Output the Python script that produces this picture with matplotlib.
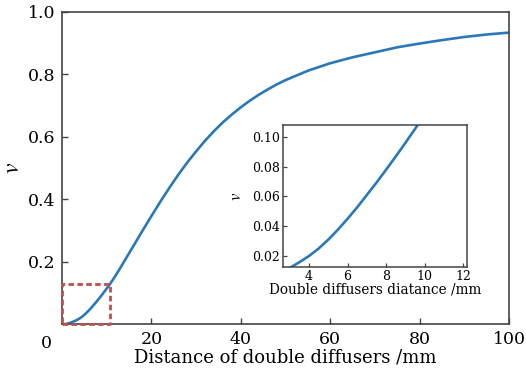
import numpy as np
import matplotlib.pyplot as plt

# values
dist = [0.5, 1, 2, 2.5, 3, 3.5, 4, 4.5, 5, 5.5, 6, 6.5, 7, 7.5, 8, 8.5, 9,
        9.5, 10, 10.5, 11, 11.5, 12, 13, 14, 16, 18, 20, 22, 24, 26, 28, 30,
        32, 34, 36, 38, 40, 42, 44, 46, 48, 50, 55, 60, 65, 70, 75, 80, 85,
        90, 95, 100]
v = [0.001, 0.002, 0.006, 0.009, 0.012, 0.0158, 0.020, 0.025, 0.031, 0.0377,
     0.045, 0.0527, 0.061, 0.0693, 0.078, 0.0869, 0.096, 0.1054, 0.115,
     0.1249, 0.135, 0.1458, 0.157, 0.180, 0.204, 0.252, 0.300, 0.347, 0.393,
     0.437, 0.479, 0.518, 0.554, 0.588, 0.619, 0.647, 0.672, 0.695, 0.716,
     0.735, 0.752, 0.768, 0.782, 0.812, 0.836, 0.855, 0.871, 0.887, 0.899,
     0.910, 0.920, 0.928, 0.934]

box_x = [0, 10.8]
box_y = [0, 0.13]

main_xticks = [20, 40, 60, 80, 100]
main_yticks = [0.2, 0.4, 0.6, 0.8, 1.0]
ins_xticks = [4, 6, 8, 10, 12]
ins_yticks = [0.02, 0.04, 0.06, 0.08, 0.10]

plt.rcParams['font.family'] = ['DejaVu Serif']
plt.rcParams['mathtext.fontset'] = 'stix'

line_col = '#2a78b8'
spine_col = '#444444'

fig = plt.figure(figsize=(5.26, 3.77), dpi=100)
ax = fig.add_axes([0.1179, 0.1393, 0.8498, 0.8289])
ax.plot(dist, v, color=line_col, lw=1.9)
ax.set_xlim(0, 100)
ax.set_ylim(0, 1.0)
ax.set_xticks(main_xticks)
ax.set_yticks(main_yticks)
ax.set_yticklabels(['0.2', '0.4', '0.6', '0.8', '1.0'])
ax.tick_params(direction='in', length=4, width=1, color=spine_col,
               labelsize=12.5, pad=5)
for s in ax.spines.values():
    s.set_color(spine_col)
    s.set_linewidth(1.2)
ax.set_xlabel('Distance of double diffusers /mm', fontsize=13, labelpad=0)
ax.set_ylabel('$v$', fontsize=17, va='center')
ax.yaxis.set_label_coords(-0.11, 0.5)
ax.text(-0.035, -0.06, '0', transform=ax.transAxes, fontsize=12.5,
        ha='center', va='center')

# dashed box marking the zoomed region
ax.plot([box_x[0], box_x[1], box_x[1], box_x[0], box_x[0]],
        [box_y[0], box_y[0], box_y[1], box_y[1], box_y[0]],
        color='#c0504d', lw=2, ls=(0, (2, 1.2)), clip_on=False, zorder=3)

# inset
ins = fig.add_axes([0.538, 0.2918, 0.350, 0.3766])
ins.plot(dist, v, color=line_col, lw=1.9)
ins.set_xlim(2.65, 12.2)
ins.set_ylim(0.0126, 0.108)
ins.set_xticks(ins_xticks)
ins.set_yticks(ins_yticks)
ins.set_yticklabels(['0.02', '0.04', '0.06', '0.08', '0.10'])
ins.tick_params(direction='in', length=3, width=0.9, color=spine_col,
                labelsize=9, pad=2)
for s in ins.spines.values():
    s.set_color(spine_col)
    s.set_linewidth(1.1)
ins.set_xlabel('Double diffusers diatance /mm', fontsize=9.8, labelpad=0)
ins.set_ylabel('$v$', fontsize=12, va='center')
ins.yaxis.set_label_coords(-0.25, 0.5)

fig.savefig('out.png', dpi=100)
